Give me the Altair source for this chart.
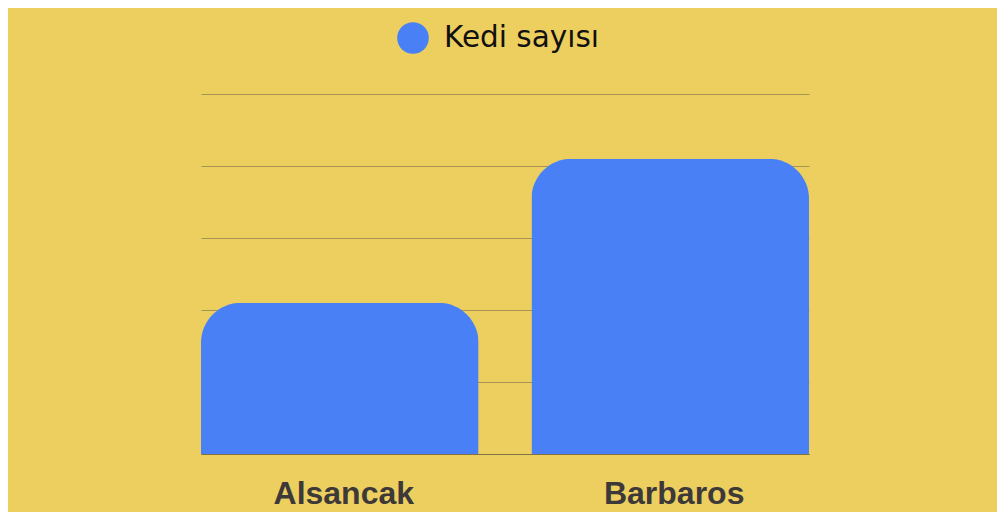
import altair as alt
import pandas as pd

categories = ["Alsancak", "Barbaros"]
values = [2.1, 4.1]
series = ["Kedi sayısı", "Kedi sayısı"]
grid_ticks = [0, 1, 2, 3, 4, 5]

df = pd.DataFrame({"mahalle": categories, "deger": values, "seri": series})

bars = alt.Chart(df).mark_bar(
    cornerRadiusTopLeft=40, cornerRadiusTopRight=40
).encode(
    x=alt.X("mahalle:N", sort=categories, title=None,
            scale=alt.Scale(paddingInner=0.16, paddingOuter=0),
            axis=alt.Axis(labelAngle=0, labelFont="Liberation Sans", labelFontSize=32,
                          labelFontWeight="bold", labelColor="#3d3939",
                          labelBaseline="alphabetic", labelPadding=49, labelOffset=4,
                          ticks=False, tickSize=0, domain=True,
                          domainColor="#7f7045", domainWidth=1, grid=False)),
    y=alt.Y("deger:Q", title=None,
            scale=alt.Scale(domain=[0, 5], nice=False),
            axis=alt.Axis(values=grid_ticks, labels=False, ticks=False, tickSize=0,
                          domain=False, grid=True, gridColor="#9c8c52",
                          gridWidth=1, gridOpacity=0.9)),
    color=alt.Color("seri:N", title=None,
                    scale=alt.Scale(range=["#4a80f6"]),
                    legend=alt.Legend(orient="none", legendX=196, legendY=-72,
                                      direction="horizontal", padding=0,
                                      symbolType="circle", symbolSize=1000,
                                      symbolStrokeWidth=0, symbolOpacity=1,
                                      labelFont="DejaVu Sans", labelFontSize=29.5,
                                      labelColor="#111111", labelOffset=15,
                                      labelLimit=400)),
)

chart = bars.properties(
    width=608, height=360,
    background="#edcf60",
    padding={"left": 193, "top": 86, "right": 188, "bottom": 58},
    autosize=alt.AutoSizeParams(type="none"),
).configure_view(stroke=None)

chart.save("out.html", embed_options={"renderer": "svg", "actions": False})
